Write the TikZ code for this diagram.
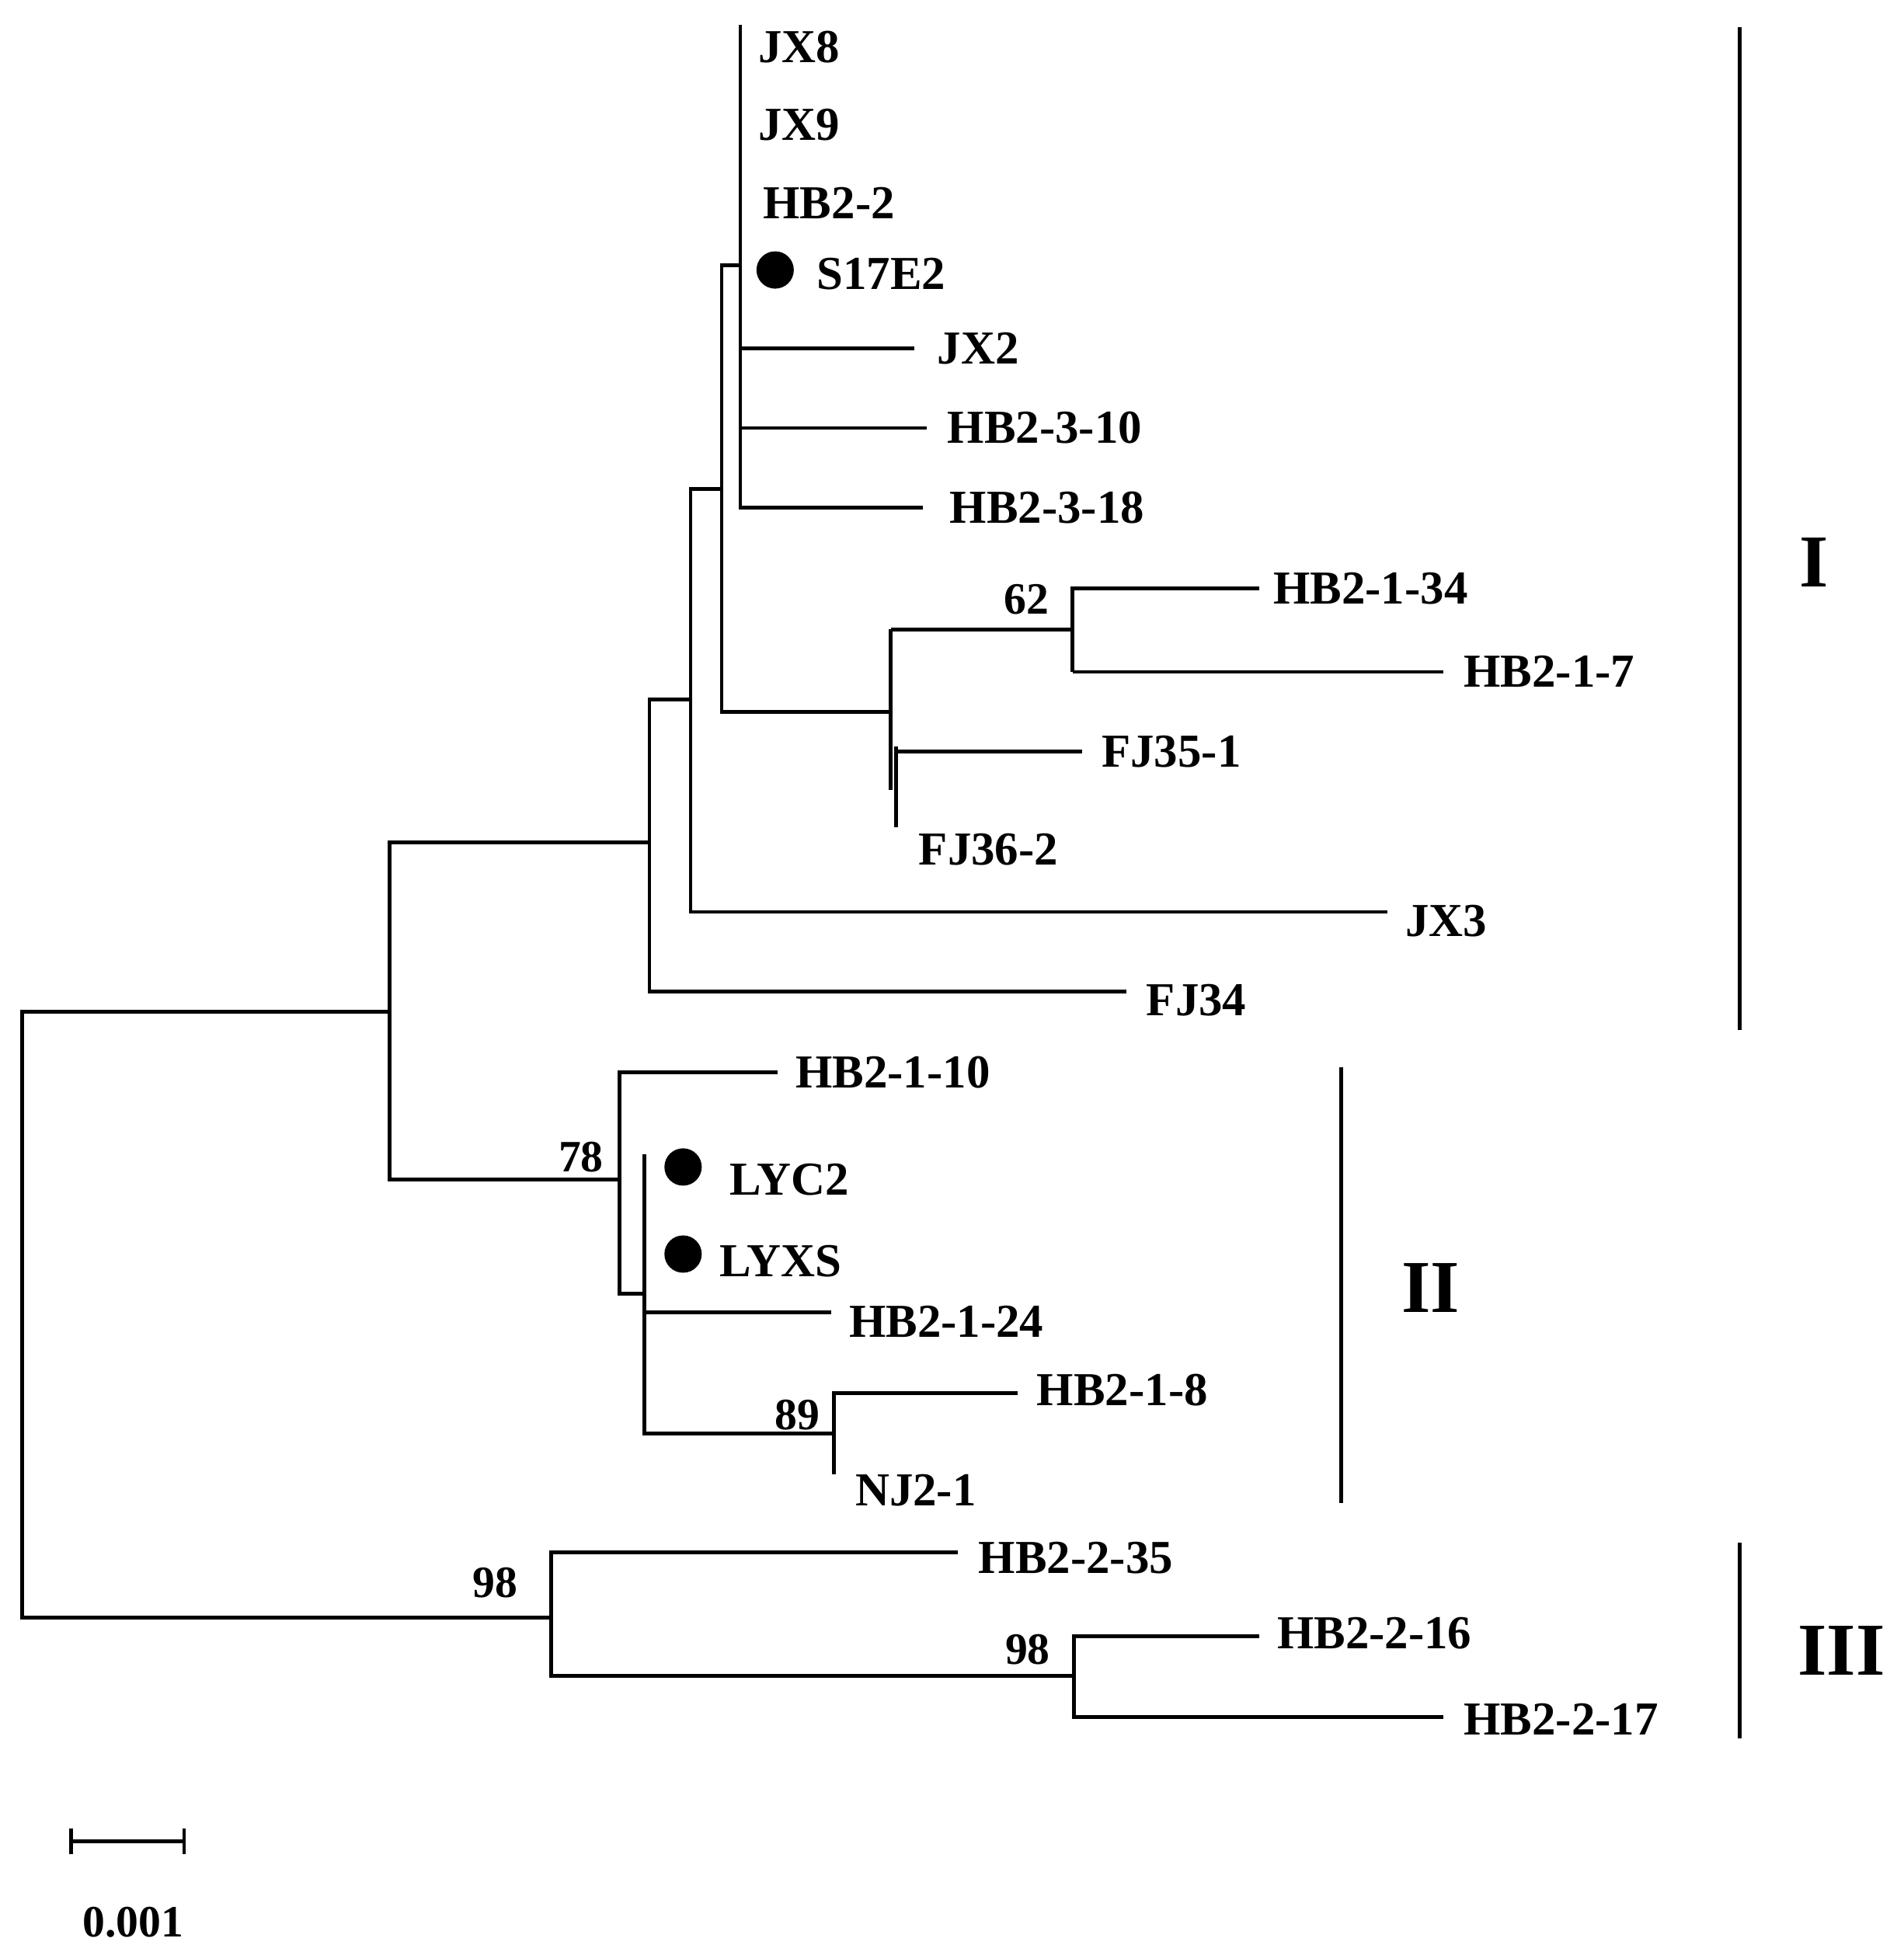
\documentclass[tikz,border=0pt]{standalone}
\usepackage{fontspec}
\setmainfont{Liberation Serif}
\begin{document}
\begin{tikzpicture}[x=0.5pt,y=-0.5pt,line width=1.5pt,
  lab/.style={anchor=west,font=\fontsize{19}{19}\selectfont\bfseries,inner sep=0pt},
  boot/.style={font=\fontsize{18}{18}\selectfont\bfseries,inner sep=0pt},
  clade/.style={font=\fontsize{30}{30}\selectfont\bfseries,inner sep=0pt},
  dot/.style={circle,fill=black,minimum size=15pt,inner sep=0pt}]
\useasboundingbox (0,0) rectangle (1530,1569);
% root
\draw (313,813) -- (18,813) -- (18,1300) -- (443,1300);
\draw (522,677) -- (313,677) -- (313,948) -- (498,948);
\draw (555,562) -- (522,562) -- (522,797) -- (905,797);
\draw (580,393) -- (555,393) -- (555,733) -- (1115,733);
\draw (595,213) -- (580,213) -- (580,572) -- (716,572);
\draw (595,20) -- (595,408) -- (742,408);
\draw (595,280) -- (735,280);
\draw (595,344) -- (745,344);
\draw (716,506) -- (716,635);
\draw (716,506) -- (862,506);
\draw (862,540) -- (862,473) -- (1012,473);
\draw (862,540) -- (1160,540);
\draw (720,600) -- (720,665);
\draw (720,604) -- (870,604);
% clade II
\draw (625,862) -- (498,862) -- (498,1040) -- (518,1040);
\draw (518,928) -- (518,1152) -- (670,1152);
\draw (518,1055) -- (668,1055);
\draw (670,1185) -- (670,1120) -- (818,1120);
% clade III
\draw (770,1248) -- (443,1248) -- (443,1347) -- (863,1347);
\draw (1012,1315) -- (863,1315) -- (863,1380) -- (1160,1380);
% leaves
\node[lab] (jx8) at (608,38) {JX8};
\node[lab] (jx9) at (608,100) {JX9};
\node[lab] (hb22) at (612,163) {HB2-2};
\node[dot] (d1) at (623,217) {};
\node[lab] (s17) at (655,220) {S17E2};
\node[lab] (jx2) at (752,280) {JX2};
\node[lab] (a) at (760,344) {HB2-3-10};
\node[lab] (b) at (762,408) {HB2-3-18};
\node[lab] (c) at (1022,473) {HB2-1-34};
\node[lab] (d) at (1175,540) {HB2-1-7};
\node[lab] (e) at (884,604) {FJ35-1};
\node[lab] (f) at (737,683) {FJ36-2};
\node[lab] (g) at (1128,740) {JX3};
\node[lab] (h) at (920,804) {FJ34};
\node[lab] (i) at (638,862) {HB2-1-10};
\node[dot] (d2) at (549,938) {};
\node[lab] (j) at (585,948) {LYC2};
\node[dot] (d3) at (549,1008) {};
\node[lab] (k) at (577,1014) {LYXS};
\node[lab] (l) at (681,1062) {HB2-1-24};
\node[lab] (m) at (832,1117) {HB2-1-8};
\node[lab] (n) at (686,1198) {NJ2-1};
\node[lab] (o) at (785,1252) {HB2-2-35};
\node[lab] (p) at (1025,1313) {HB2-2-16};
\node[lab] (q) at (1175,1382) {HB2-2-17};
% bootstrap
\node[boot] (b1) at (825,482) {62};
\node[boot] (b2) at (467,930) {78};
\node[boot] (b3) at (641,1137) {89};
\node[boot] (b4) at (398,1272) {98};
\node[boot] (b5) at (826,1326) {98};
% clade bars
\draw (1398,22) -- (1398,828);
\node[clade] (c1) at (1458,452) {I};
\draw (1078,858) -- (1078,1208);
\node[clade] (c2) at (1150,1035) {II};
\draw (1398,1240) -- (1398,1397);
\node[clade] (c3) at (1480,1327) {III};
% scale
\draw (57,1480) -- (148,1480);
\draw (57,1470) -- (57,1490);
\draw (148,1470) -- (148,1490);
\node[boot] (sc) at (107,1545) {0.001};
\end{tikzpicture}
\end{document}
